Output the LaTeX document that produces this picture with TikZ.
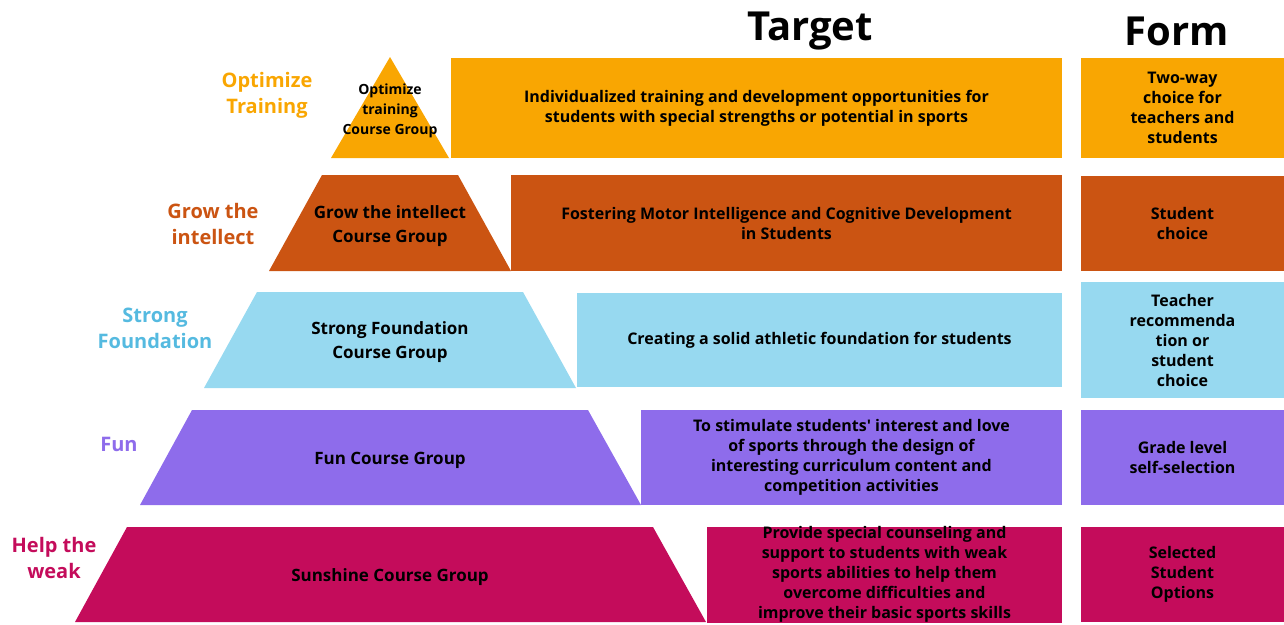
\documentclass[tikz,border=0pt]{standalone}
\usepackage{fontspec}
\setmainfont{Open Sans}[Ligatures=TeXOff]
\usepackage{tikz}
\usetikzlibrary{positioning}
\definecolor{optorange}{HTML}{F9A602}
\definecolor{growbrown}{HTML}{CB5412}
\definecolor{strongblue}{HTML}{97D9F0}
\definecolor{stronglabel}{HTML}{55BAE0}
\definecolor{funpurple}{HTML}{8E6CEB}
\definecolor{helpcrimson}{HTML}{C40C5B}

\begin{document}
\begin{tikzpicture}[x=1pt,y=-1pt,
  txt/.style={align=center, text=black, font=\bfseries\fontsize{16}{20}\selectfont},
  head/.style={font=\bfseries\fontsize{40}{48}\selectfont},
  level/.style={align=center, font=\bfseries\fontsize{20}{26}\selectfont},
  pyr/.style={txt, font=\bfseries\fontsize{17}{24}\selectfont},
  tbox/.style={txt, inner sep=0pt, outer sep=0pt},
  fbox/.style={txt, inner sep=0pt, outer sep=0pt, minimum width=203}]
\useasboundingbox (0,0) rectangle (1284,624);

% column heads
\node[head] (target) at (810,31) {Target};
\node[head] (form) at (1177,31) {Form};

% pyramid bands
\fill[optorange] (390,57) -- (449,158) -- (331,158) -- cycle;
\fill[growbrown] (322,175) -- (458,175) -- (511,271) -- (269,271) -- cycle;
\fill[strongblue] (257,292) -- (523,292) -- (576,388) -- (204,388) -- cycle;
\fill[funpurple] (192,410) -- (588,410) -- (641,505) -- (140,505) -- cycle;
\fill[helpcrimson] (127,527) -- (653,527) -- (706,622) -- (75,622) -- cycle;

\node[txt, font=\bfseries\fontsize{14}{20}\selectfont] (optgroup) at (390,111) {Optimize\\training\\Course Group};
\node[pyr] (growgroup) at (390,226) {Grow the intellect\\Course Group};
\node[pyr] (stronggroup) at (390,342) {Strong Foundation\\Course Group};
\node[pyr] (fungroup) at (390,460) {Fun Course Group};
\node[pyr] (sungroup) at (390,577) {Sunshine Course Group};

% level names
\node[level, text=optorange] (optlbl) at (267,95) {Optimize\\Training};
\node[level, text=growbrown] (growlbl) at (213,224) {Grow the\\intellect};
\node[level, text=stronglabel] (stronglbl) at (155,328) {Strong\\Foundation};
\node[level, text=funpurple] (funlbl) at (119,444) {Fun};
\node[level, text=helpcrimson] (helplbl) at (54,558) {Help the\\weak};

% target column
\node[tbox, fill=optorange, minimum width=611, minimum height=100] (t1) at (756.5,108)
  {Individualized training and development opportunities for\\students with special strengths or potential in sports};
\node[tbox, fill=growbrown, minimum width=551, minimum height=96] (t2) at (786.5,223)
  {Fostering Motor Intelligence and Cognitive Development\\in Students};
\node[tbox, fill=strongblue, minimum width=485, minimum height=94] (t3) at (819.5,340)
  {Creating a solid athletic foundation for students};
\node[tbox, fill=funpurple, minimum width=421, minimum height=95] (t4) at (851.5,457.5)
  {To stimulate students' interest and love\\of sports through the design of\\interesting curriculum content and\\competition activities};
\node[tbox, fill=helpcrimson, minimum width=355, minimum height=95] (t5) at (884.5,574.5)
  {Provide special counseling and\\support to students with weak\\sports abilities to help them\\overcome difficulties and\\improve their basic sports skills};

% form column
\node[fbox, fill=optorange, minimum height=100, right=19pt of t1] (f1) {Two-way\\choice for\\teachers and\\students};
\node[fbox, fill=growbrown, minimum height=95, right=19pt of t2] (f2) {Student\\choice};
\node[fbox, fill=strongblue, minimum height=116, right=19pt of t3] (f3) {Teacher\\recommenda\\tion or\\student\\choice};
\node[fbox, fill=funpurple, minimum height=95, right=19pt of t4] (f4) {Grade level\\self-selection};
\node[fbox, fill=helpcrimson, minimum height=95, right=19pt of t5] (f5) {Selected\\Student\\Options};
\end{tikzpicture}
\end{document}
